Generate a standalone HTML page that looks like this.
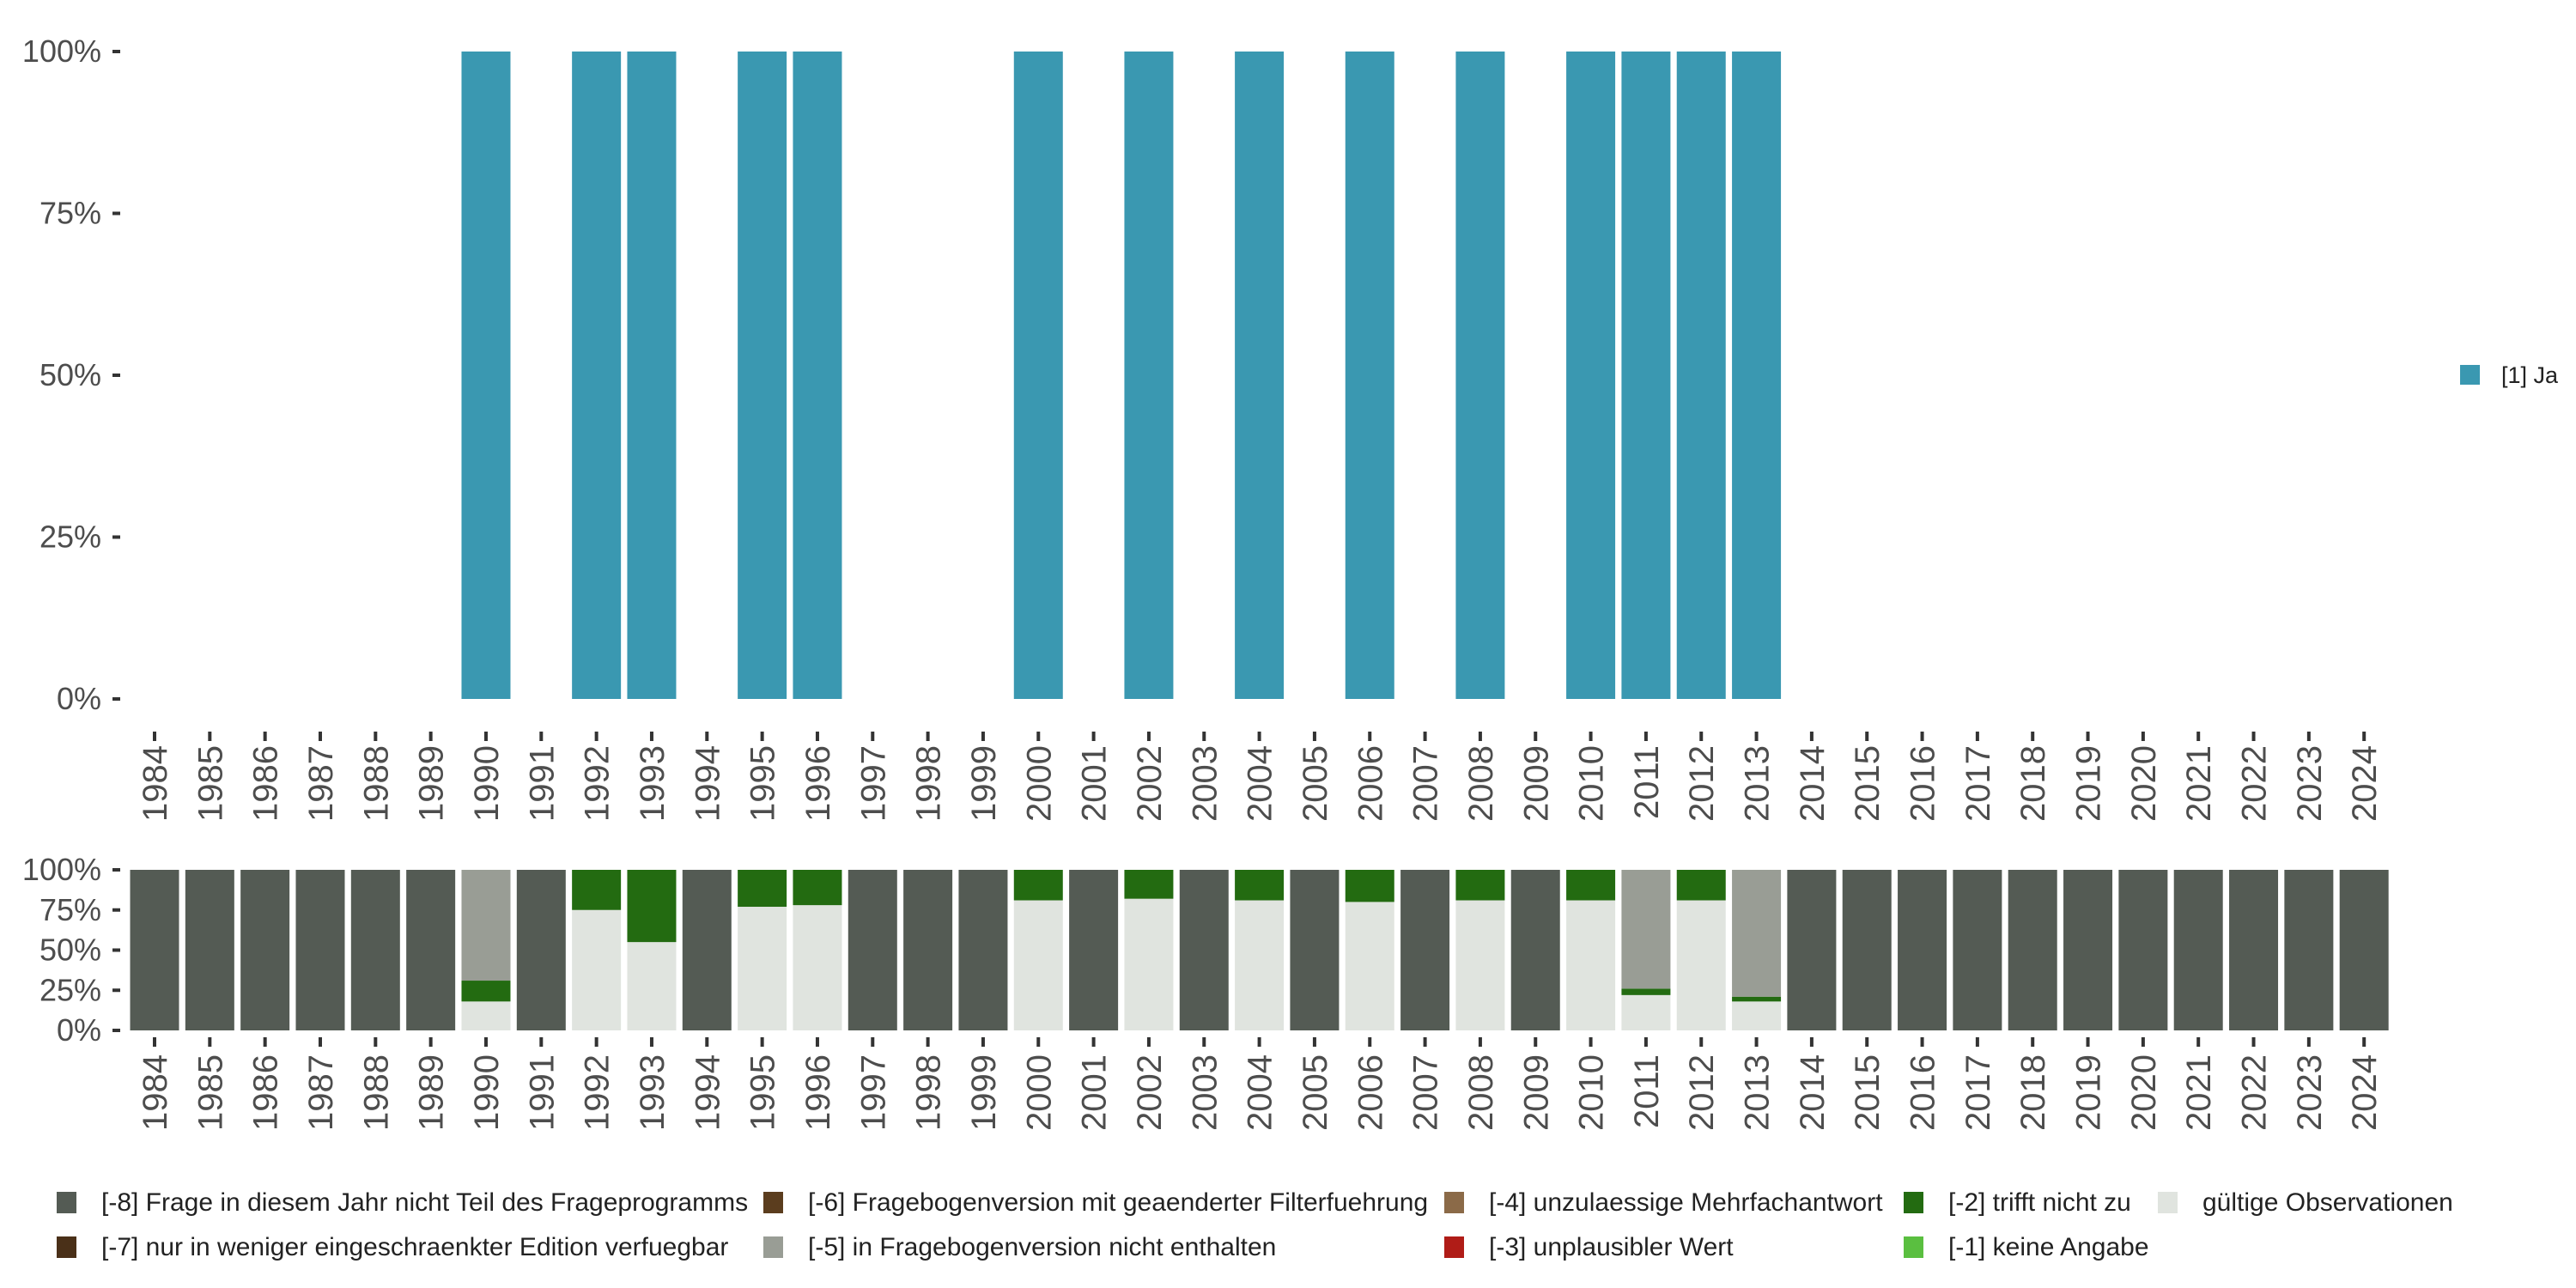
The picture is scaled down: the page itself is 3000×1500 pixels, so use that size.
<!DOCTYPE html>
<html><head><meta charset="utf-8"><style>
html,body{margin:0;padding:0;background:#fff;}
svg{display:block;font-family:"Liberation Sans",sans-serif;}
</style></head><body>
<svg id="chart" width="3000" height="1500" xmlns="http://www.w3.org/2000/svg">
<g id="topPanel"></g>
<g id="bottomPanel"></g>
<g id="legendG"></g>
<g>
<rect x="2865" y="425" width="23" height="23" fill="#3a98b1"></rect>
<text x="2913" y="446" font-size="27" fill="#222">[1] Ja</text>
</g>
</svg>
<script>
const years = [];
for (let y = 1984; y <= 2024; y++) years.push(y);
const yesYears = [1990,1992,1993,1995,1996,2000,2002,2004,2006,2008,2010,2011,2012,2013];
const yesValues = [100,100,100,100,100,100,100,100,100,100,100,100,100,100];
const validYears = [1990,1992,1993,1995,1996,2000,2002,2004,2006,2008,2010,2011,2012,2013];
const validPct  = [18,75,55,77,78,81,82,81,80,81,81,22,81,18];
const notTruePct= [13,25,45,23,22,19,18,19,20,19,19,4,19,3];
const notInQPct = [69,0,0,0,0,0,0,0,0,0,0,74,0,79];
const yTicks = [0,25,50,75,100];
const yTickLabels = ["0%","25%","50%","75%","100%"];
const legendLabels = [
 ["[-8] Frage in diesem Jahr nicht Teil des Frageprogramms","#545b54"],
 ["[-7] nur in weniger eingeschraenkter Edition verfuegbar","#4a3018"],
 ["[-6] Fragebogenversion mit geaenderter Filterfuehrung","#5b3d1e"],
 ["[-5] in Fragebogenversion nicht enthalten","#999d95"],
 ["[-4] unzulaessige Mehrfachantwort","#8b6a48"],
 ["[-3] unplausibler Wert","#b01c17"],
 ["[-2] trifft nicht zu","#236b11"],
 ["[-1] keine Angabe","#5abf40"],
 ["gültige Observationen","#e0e4df"]
];
const NS="http://www.w3.org/2000/svg";
function mk(tag, attrs, parent){const e=document.createElementNS(NS,tag);for(const k in attrs)e.setAttribute(k,attrs[k]);parent.appendChild(e);return e;}
const step=64.33, x0=180, bw=57;
const xS = yr => x0 + (yr-1984)*step;
function yScale(y0,y100){return v => y0 - (y0-y100)*v/100;}
const yT = yScale(814,60), yB = yScale(1200,1013);

function axes(g, ys, tickY, labelY, prefix){
  yTicks.forEach((t,i)=>{
    const tk=mk('rect',{x:131,y:ys(t)-2,width:9,height:4,fill:'#333'},g);
    
    
    const tx=mk('text',{x:118,y:ys(t)+12,'font-size':36,'text-anchor':'end',fill:'#4d4d4d'},g);
    tx.textContent=yTickLabels[i];
    
    
  });
  years.forEach(yr=>{
    const x=xS(yr);
    const tk=mk('rect',{x:x-2,y:tickY,width:4,height:11,fill:'#333'},g);
    
    
    const tx=mk('text',{x:0,y:0,'font-size':40,'text-anchor':'end',fill:'#4d4d4d',transform:`translate(${x+14},${labelY}) rotate(-90)`},g);
    tx.textContent=yr;
    
    
  });
}
const topG=document.getElementById('topPanel');
yesYears.forEach((yr,i)=>{
  const r=mk('rect',{x:xS(yr)-bw/2,y:yT(yesValues[i]),width:bw,height:yT(0)-yT(yesValues[i]),fill:'#3a98b1'},topG);
  
  
});
axes(topG,yT,852,868,'top');

const botG=document.getElementById('bottomPanel');
years.forEach(yr=>{
  const i=validYears.indexOf(yr);
  let segs;
  if(i<0) segs=[[100,'#545b54','missing-8']];
  else { const rest=100-validPct[i]-notTruePct[i]-notInQPct[i];
    segs=[[validPct[i],'#e0e4df','valid'],[notTruePct[i],'#236b11','not-true'],[notInQPct[i],'#999d95','not-in-questionnaire'],[rest,'#545b54','missing-8']]; }
  let acc=0;
  segs.forEach(s=>{
    if(s[0]<=0) return;
    const r=mk('rect',{x:xS(yr)-bw/2,y:yB(acc+s[0]),width:bw,height:yB(acc)-yB(acc+s[0]),fill:s[1]},botG);
    
    
    acc+=s[0];
  });
});
axes(botG,yB,1208,1228,'bottom');

const lgG=document.getElementById('legendG');
const cols=[66,889,1682,2217,2513];
legendLabels.forEach((l,i)=>{
  const c=Math.floor(i/2), r=i%2;
  const x=cols[c], y=r?1440:1388;
  const sq=mk('rect',{x:x,y:y,width:23,height:25,fill:l[1]},lgG);
  
  
  const t=mk('text',{x:x+52,y:y+22,'font-size':30,fill:'#222'},lgG);
  t.textContent=l[0];
  
  
});
</script>
</body></html>
